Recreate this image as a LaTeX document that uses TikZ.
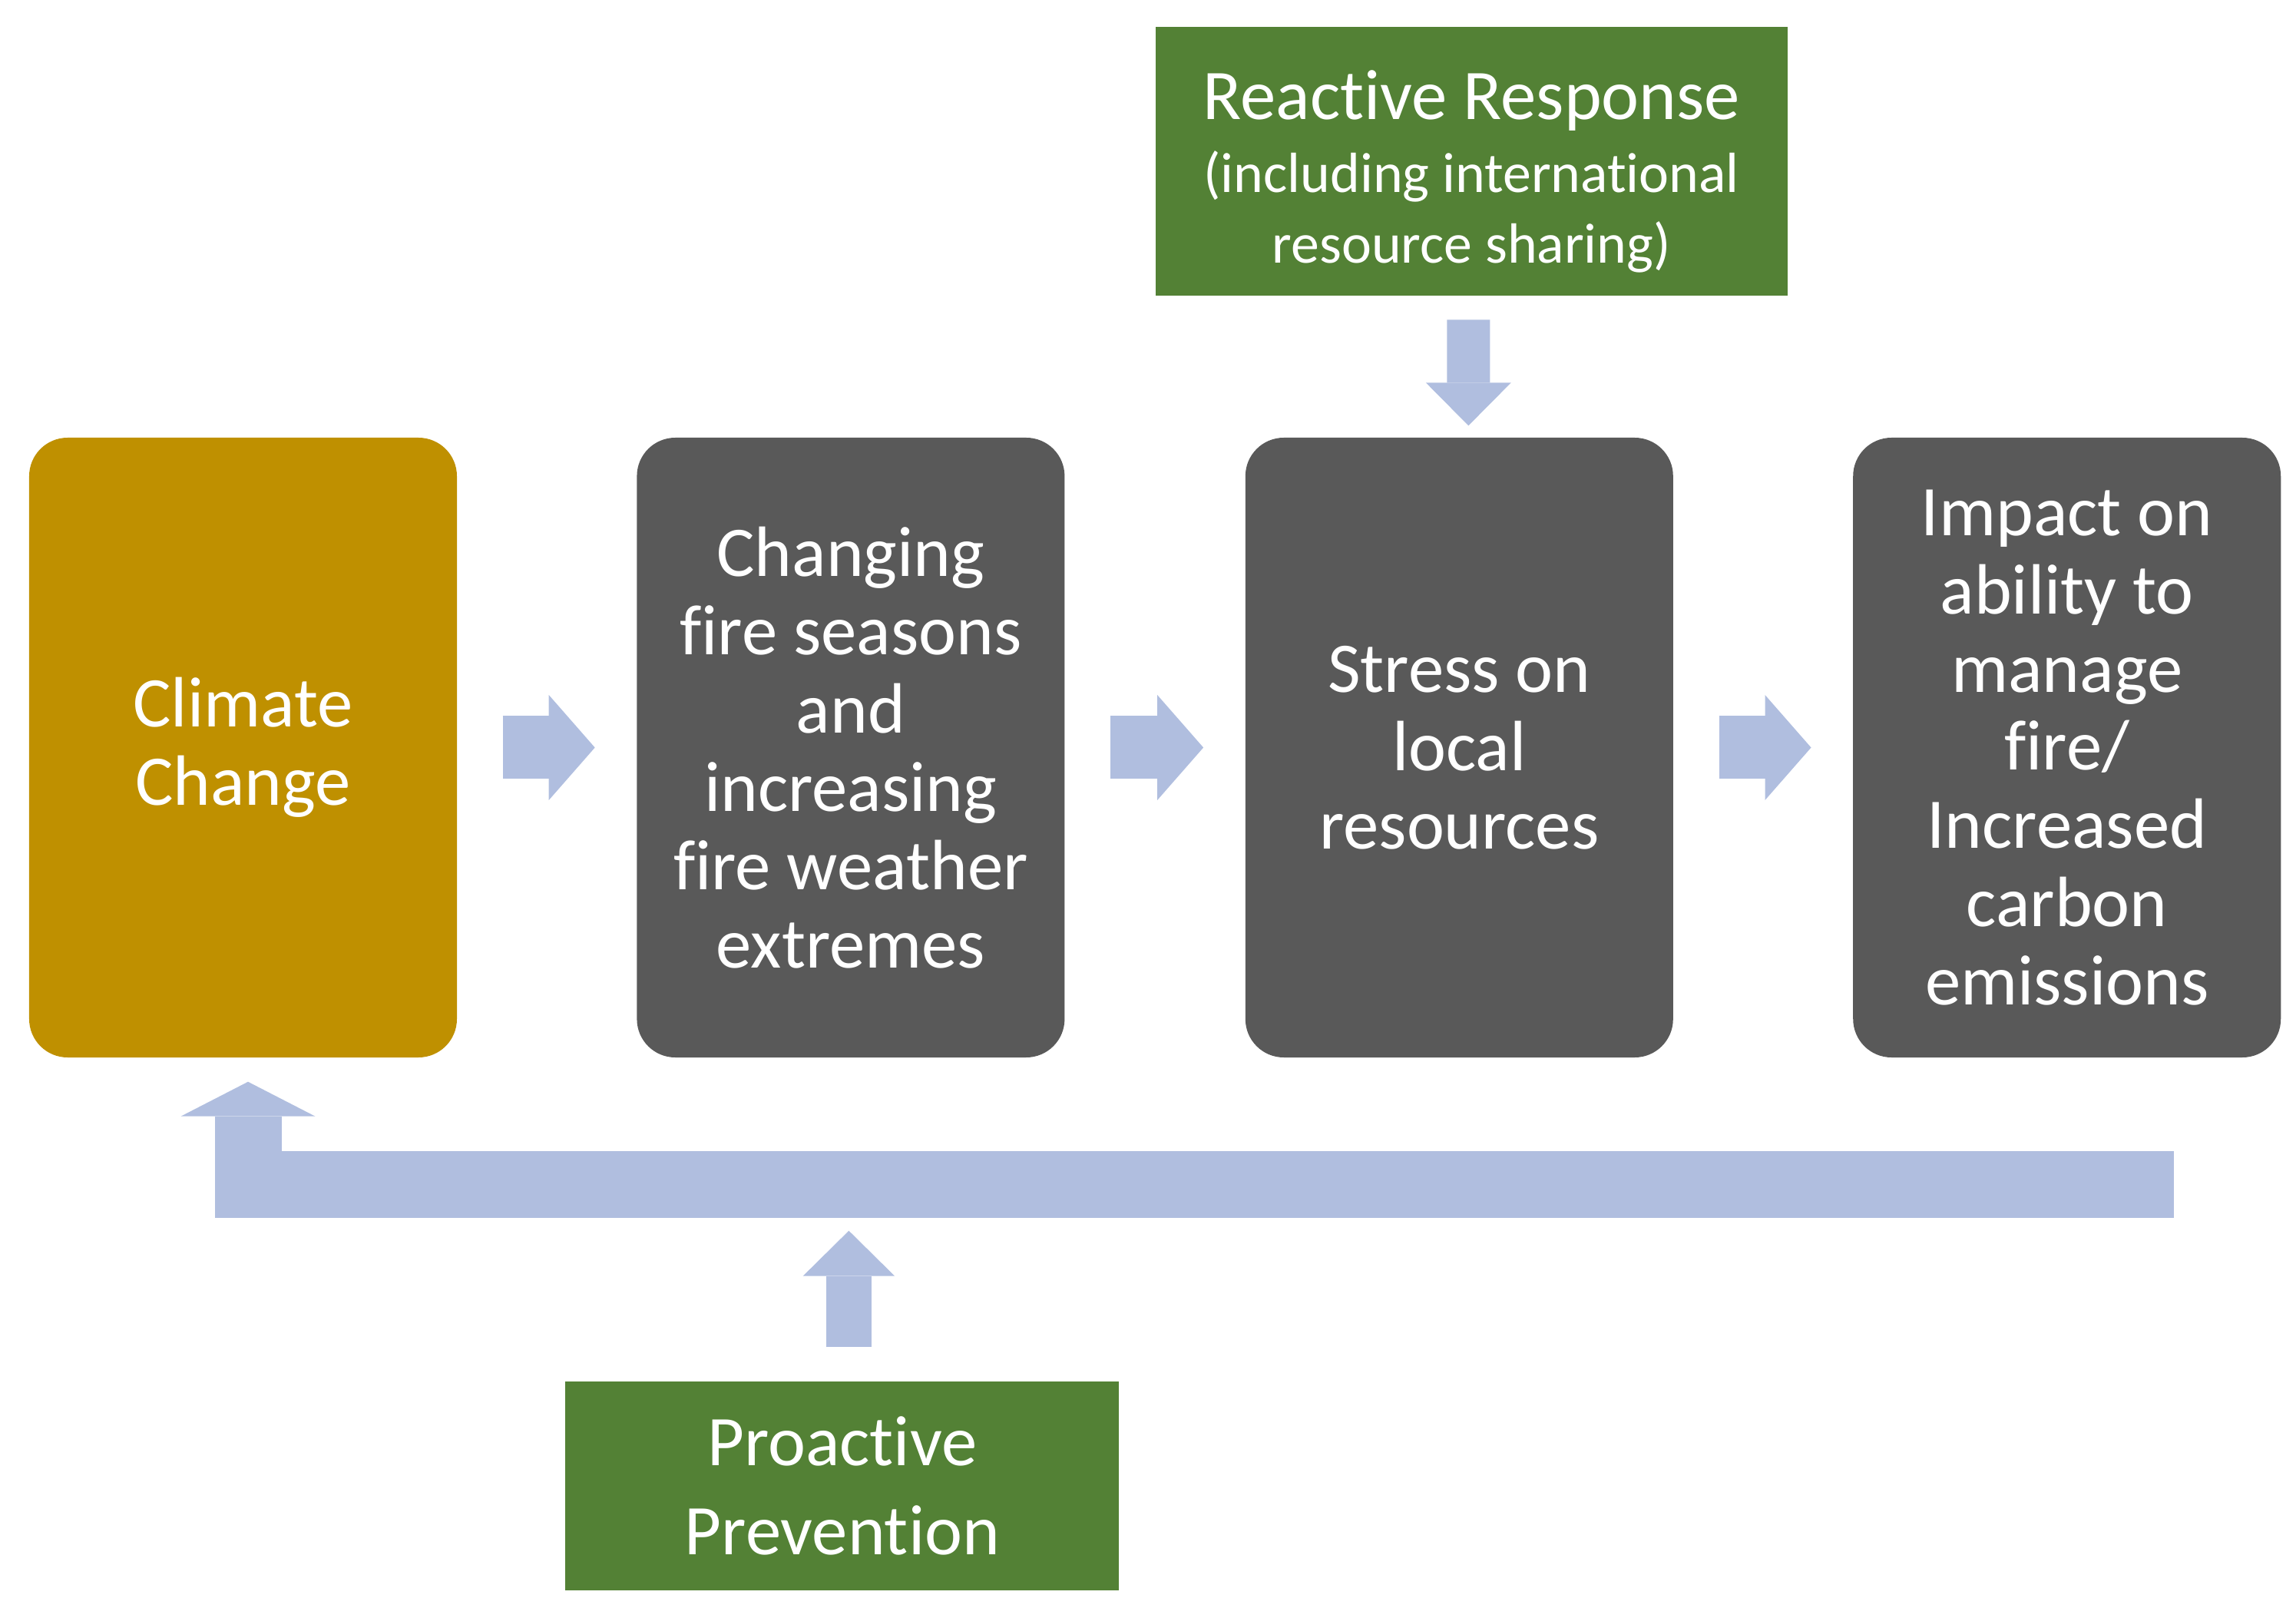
\documentclass[tikz,border=0pt]{standalone}
\usepackage{fontspec}
\setmainfont{Carlito}[Ligatures=NoCommon]
\definecolor{ccgold}{HTML}{BF9000}
\definecolor{boxgray}{HTML}{595959}
\definecolor{actgreen}{HTML}{538135}
\definecolor{arrowblue}{HTML}{B0BEDF}
\usetikzlibrary{arrows.meta,positioning,calc}

\tikzset{
  stage/.style={fill=boxgray, rounded corners=0.5cm, minimum width=5.57cm,
    minimum height=8.07cm, inner sep=0pt, text=white, align=center,
    font=\fontsize{26.4}{29}\selectfont},
  action/.style={fill=actgreen, inner sep=0pt, text=white, align=center},
  fat/.style={draw=arrowblue, line width=0.82cm,
    -{Triangle[length=0.6cm,width=1.37cm,line width=0pt]}},
}

\begin{document}
\begin{tikzpicture}
  \useasboundingbox (0,0) rectangle (29.9,21.06);

  % chain of stages
  \node[stage, fill=ccgold] (climate) at (3.165,11.325) {Climate\\Change};
  \node[stage, right=2.33cm of climate] (fire)
    {Changing\\fire seasons\\and\\increasing\\fire weather\\extremes};
  \node[stage, right=2.34cm of fire] (stress) {Stress on\\local\\resources};
  \node[stage, right=2.33cm of stress] (impact)
    {Impact on\\ability to\\manage\\fire/\\Increased\\carbon\\emissions};

  % responses
  \node[action, minimum width=8.23cm, minimum height=3.5cm,
        font=\fontsize{21}{26}\selectfont,
        above=1.84cm of stress, xshift=0.16cm] (react)
    {\rule{0pt}{26pt}{\fontsize{26.4}{27}\selectfont Reactive Response}\\[1pt](including international\\resource sharing)};
  \node[action, minimum width=7.21cm, minimum height=2.725cm,
        font=\fontsize{26.4}{33}\selectfont,
        below=4.205cm of fire, xshift=-0.11cm] (proact) {Proactive\\Prevention};

  \foreach \a/\b in {climate/fire,fire/stress,stress/impact}
    \draw[fat] ([xshift=0.59cm]\a.east) -- ([xshift=-0.54cm]\b.west);

  \draw[fat, line width=0.56cm, -{Triangle[length=0.56cm,width=1.11cm,line width=0pt]}]
    ([xshift=-0.04cm,yshift=-0.31cm]react.south) -- ([xshift=0.12cm,yshift=0.15cm]stress.north);

  % feedback loop
  \coordinate (fbend) at ([xshift=1.39cm,yshift=-1.645cm]impact.south);
  \coordinate (fbtip) at ([xshift=0.065cm,yshift=-0.31cm]climate.south);
  \draw[fat, line width=0.87cm, -{Triangle[length=0.45cm,width=1.75cm,line width=0pt]}]
    (fbend) -- (fbtip |- fbend) -- (fbtip);

  \coordinate (prevtail) at ([xshift=0.085cm,yshift=0.44cm]proact.north);
  \coordinate (prevtip) at ([yshift=-0.605cm]prevtail |- fbend);
  \draw[fat, line width=0.595cm, -{Triangle[length=0.59cm,width=1.195cm,line width=0pt]}]
    (prevtail) -- (prevtip);
\end{tikzpicture}
\end{document}
